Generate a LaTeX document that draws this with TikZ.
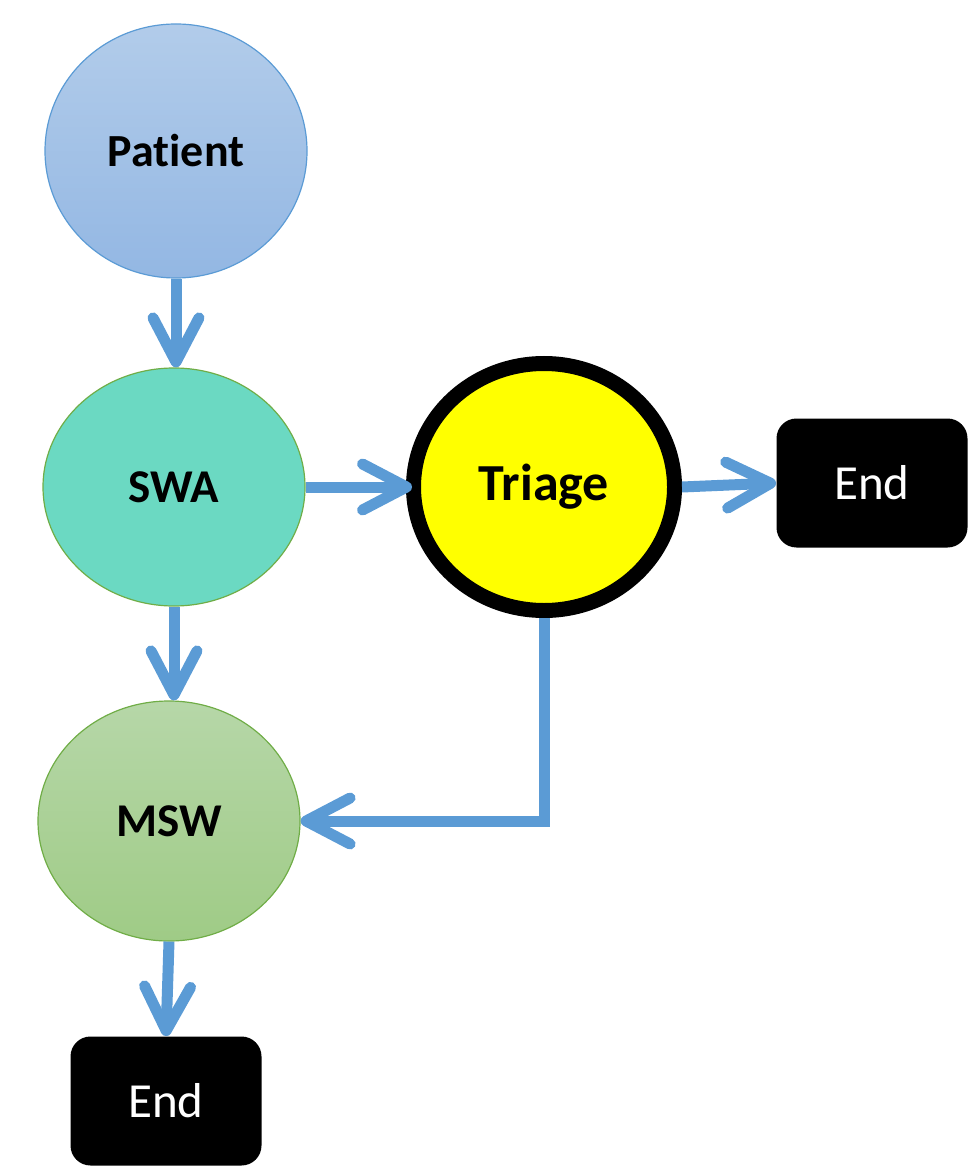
\documentclass[tikz,border=0pt]{standalone}
\usepackage{fontspec}
\setmainfont[Ligatures={NoCommon}]{Carlito}
\usetikzlibrary{shapes.geometric,arrows.meta}
\definecolor{flowblue}{HTML}{5B9BD5}
\definecolor{patTop}{HTML}{B2CCEA}
\definecolor{patBot}{HTML}{93B7E3}
\definecolor{swaFill}{HTML}{6BD9C2}
\definecolor{mswTop}{HTML}{B6D7A8}
\definecolor{mswBot}{HTML}{9FCB86}
\definecolor{leafline}{HTML}{70AD47}
\definecolor{triFill}{HTML}{FFFF00}
\begin{document}
\begin{tikzpicture}[x=0.5pt,y=-0.5pt,
  flow/.style={draw=flowblue,line width=5.5pt,
    -{Straight Barb[length=22pt,width=23pt,round]}},
  stage/.style={ellipse,inner sep=0pt,minimum width=131pt,minimum height=119pt,
    line width=0.6pt,font=\bfseries\fontsize{23.5}{28}\selectfont},
  endbox/.style={fill=black,rounded corners=10pt,minimum width=95.5pt,
    minimum height=64.5pt,text=white,font=\fontsize{24.5}{29}\selectfont}]
\useasboundingbox (0,0) rectangle (967,1170);
% stages
\node[stage,minimum height=127pt,top color=patTop,bottom color=patBot,draw=flowblue,
  font=\bfseries\fontsize{23}{28}\selectfont] (pat) at (176,151) {Patient};
\node[stage,fill=swaFill,draw=leafline] (swa) at (174,487) {SWA};
\node[stage,fill=triFill,draw=black,line width=7.5pt,minimum width=130.5pt,
  minimum height=123.5pt,font=\bfseries\fontsize{26}{30}\selectfont] (tri) at (544,487) {Triage};
\node[stage,minimum height=120pt,top color=mswTop,bottom color=mswBot,draw=leafline]
  (msw) at (169,821) {MSW};
\node[endbox] (endr) at (872,483) {End};
\node[endbox] (endb) at (166,1101) {End};
% flows
\draw[flow] (pat.south) -- (pat.south |- swa.north);
\draw[flow,shorten >=-3pt] (swa.east) -- (tri.west);
\draw[flow] (tri.east) -- (endr.west);
\draw[flow] (swa.south) -- (swa.south |- msw.north);
\draw[flow] (tri.south) |- (msw.east);
\draw[flow] (msw.south) -- (endb.north);
\end{tikzpicture}
\end{document}
